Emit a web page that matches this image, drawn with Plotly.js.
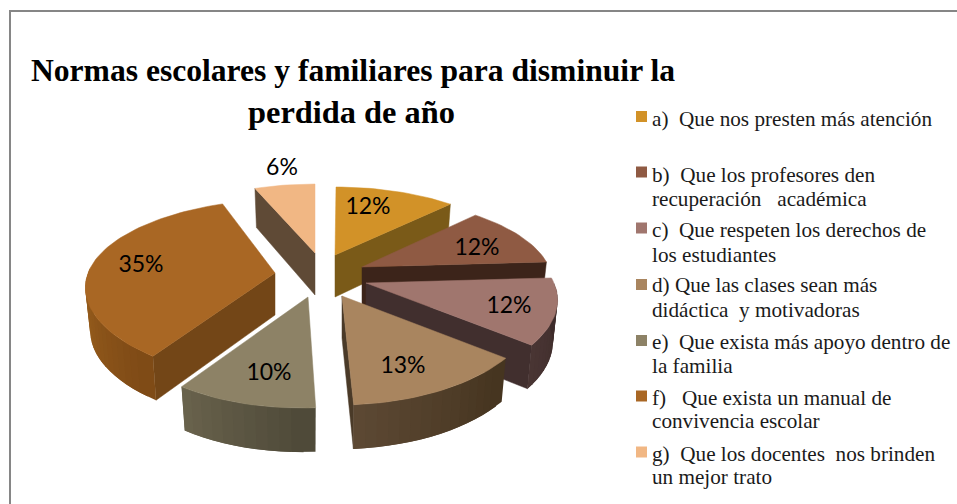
<!DOCTYPE html>
<html lang="es">
<head>
<meta charset="utf-8">
<script src="https://cdn.plot.ly/plotly-3.0.1.min.js"></script>
<style>html,body{margin:0;padding:0;background:#fff}#chart{width:957px;height:504px}</style>
</head>
<body>
<div id="chart"></div>
<script>
// ---- data ----
var titleLine1 = "Normas escolares y familiares para disminuir la";
var titleLine2 = "perdida de año";
var categories = [
  "a)  Que nos presten más atención",
  "b)  Que los profesores den|recuperación   académica",
  "c)  Que respeten los derechos de|los estudiantes",
  "d) Que las clases sean más|didáctica  y motivadoras",
  "e)  Que exista más apoyo dentro de|la familia",
  "f)   Que exista un manual de|convivencia escolar",
  "g)  Que los docentes  nos brinden|un mejor trato"
];
var values = [12, 12, 12, 13, 10, 35, 6];

// ---- style ----
var topColors  = ["#D29228", "#8F5A43", "#A0766E", "#A9855F", "#8D8266", "#A96724", "#F1B784"];
var cutColors  = ["#7A5A18", "#3C241A", "#412F2E", "#4A3A28", "#4E4938", "#734617", "#5F4A36"];
var wallStart  = ["#7A5A18", "#3C241A", "#3C2B2A", "#45341F", "#4E4938", "#7E4A16", "#5F4A36"];
var wallEnd    = ["#7A5A18", "#3C241A", "#4A3634", "#5E4A35", "#6C654F", "#A1651F", "#5F4A36"];

// ---- 3D projection of the exploded pie (in chart pixels) ----
var centerX = 325, centerY = 278;
var pullX = [10, 37, 41, 17, -17, -50, -10];
var pullY = [-23, -11, 5, 18, 19, -5, -25];
var leanX = [0, 0, 0, 3, 9, 5, 0];
var arcShiftX = [1, -1, 0, 0, 2, 3, 0];
var arcShiftY = [1, 0, 0, 0, 2, -4.5, 0];
var depth = 42;
var drawOrder = [6, 0, 5, 1, 2, 4, 3];

var labelX = [368, 477, 509, 403, 269, 141, 282];
var labelY = [208, 249, 307, 367, 374, 266, 169];
var keyY = [116.5, 172, 228, 284.5, 340.5, 396, 452];
var lineBaselines = [[125], [181, 205], [236, 261], [291, 316], [348, 372], [404, 427], [460, 483]];

function radiusXAt(c) { return 188 - 36 * c + 10 * c * c; }
function radiusYAt(c) { return 82 - 20 * c + 7 * c * c; }
function project(i, deg, radial, z) {
  var t = deg * Math.PI / 180, s = Math.sin(t), c = Math.cos(t);
  return [
    centerX + pullX[i] + radial * (radiusXAt(c) * s + leanX[i] * c + arcShiftX[i]),
    centerY + pullY[i] + radial * (arcShiftY[i] - radiusYAt(c) * c) + z * depth * (1 - 0.12 * c * radial)
  ];
}
function hex(c) { return [1, 3, 5].map(function (k) { return parseInt(c.substr(k, 2), 16); }); }
function mix(a, b, t) {
  var x = hex(a), y = hex(b);
  return "rgb(" + x.map(function (v, k) { return Math.round(v + (y[k] - v) * t); }).join(",") + ")";
}
function poly(points, color) {
  var xs = points.map(function (p) { return p[0]; }), ys = points.map(function (p) { return p[1]; });
  xs.push(xs[0]); ys.push(ys[0]);
  return { x: xs, y: ys, type: "scatter", mode: "lines", fill: "toself", fillcolor: color,
           line: { color: color, width: 0.5 }, hoverinfo: "skip", showlegend: false };
}

var total = values.reduce(function (a, b) { return a + b; }, 0);
var startAngle = [], endAngle = [], run = 0;
values.forEach(function (v) {
  startAngle.push(run / total * 360);
  run += v;
  endAngle.push(run / total * 360);
});

var traces = [];
drawOrder.forEach(function (i) {
  var a0 = startAngle[i], a1 = endAngle[i], apexTop = project(i, 0, 0, 0), apexBot = project(i, 0, 0, 1);
  var mid = project(i, (a0 + a1) / 2, 0.6, 0);
  // cut faces, only where they face the viewer
  [a0, a1].forEach(function (ang) {
    var e = project(i, ang, 1, 0), ebot = project(i, ang, 0.975, 1);
    var dx = e[0] - apexTop[0], dy = e[1] - apexTop[1];
    var nx = -dy, ny = dx;
    if (nx * (mid[0] - apexTop[0]) + ny * (mid[1] - apexTop[1]) > 0) { nx = -nx; ny = -ny; }
    if (ny > 0.5) traces.push(poly([apexTop, e, ebot, apexBot], cutColors[i]));
  });
  // outer wall, front-facing part, shaded in overlapping bands
  var w0 = Math.max(a0, 90), w1 = Math.min(a1, 270);
  if (w1 > w0) {
    var bands = Math.max(3, Math.ceil((w1 - w0) / 3));
    var step = (w1 - w0) / bands;
    for (var b = bands - 1; b >= 0; b--) {
      var pts = [], q0 = w0 + step * b, q1 = Math.min(w1, q0 + step * 2), k;
      for (k = 0; k <= 4; k++) pts.push(project(i, q0 + (q1 - q0) * k / 4, 1, 0));
      for (k = 4; k >= 0; k--) pts.push(project(i, q0 + (q1 - q0) * k / 4, 0.975, 1));
      var tr = poly(pts, mix(wallStart[i], wallEnd[i], (b + 0.5) / bands));
      tr.line.width = 0;
      traces.push(tr);
    }
  }
  // top face
  var top = [apexTop], n = Math.ceil((a1 - a0) / 2);
  for (var j = 0; j <= n; j++) top.push(project(i, a0 + (a1 - a0) * j / n, 1, 0));
  traces.push(poly(top, topColors[i]));
});

// percentage labels
traces.push({
  x: labelX, y: labelY, type: "scatter", mode: "text",
  text: values.map(function (v) { return v + "%"; }),
  textposition: "middle center",
  textfont: { family: "Lato, Carlito, sans-serif", size: 23, color: "#000" },
  hoverinfo: "skip", showlegend: false
});
// legend keys
traces.push({
  x: categories.map(function () { return 641.5; }), y: keyY,
  type: "scatter", mode: "markers",
  marker: { symbol: "square", size: 11, color: topColors, line: { width: 0 } },
  hoverinfo: "skip", showlegend: false
});

var serif = "'Liberation Serif', 'Times New Roman', serif";
var annotations = [];
categories.forEach(function (c, i) {
  c.split("|").forEach(function (line, l) {
    annotations.push({ x: 651, y: lineBaselines[i][l] - 6, xref: "x", yref: "y", xanchor: "left", yanchor: "middle",
      align: "left", showarrow: false, text: line.replace(/ {2,}/g, function (m) { return m.replace(/ /g, "\u00a0"); }), borderpad: 0,
      font: { family: serif, size: 21.2, color: "#1a1a1a" } });
  });
});
annotations.push({ x: 351, y: 112, xref: "x", yref: "y", xanchor: "center", yanchor: "middle",
  showarrow: false, text: "<b>" + titleLine2 + "</b>", font: { family: serif, size: 32.4, color: "#000" } });

var layout = {
  width: 957, height: 504,
  margin: { l: 0, r: 0, t: 0, b: 0 },
  paper_bgcolor: "#fff", plot_bgcolor: "#fff",
  showlegend: false,
  title: { text: "<b>" + titleLine1 + "</b>", x: 353 / 957, xanchor: "center", y: 1 - 70 / 504, yanchor: "middle",
           font: { family: serif, size: 31.6, color: "#000" } },
  xaxis: { range: [0, 957], visible: false, fixedrange: true },
  yaxis: { range: [504, 0], visible: false, fixedrange: true },
  shapes: [{ type: "path", xref: "x", yref: "y", path: "M 10 504 L 10 11 L 957 11",
             line: { color: "#868686", width: 2 } }],
  annotations: annotations
};
Plotly.newPlot("chart", traces, layout, { displayModeBar: false, responsive: false });
</script>
</body>
</html>
